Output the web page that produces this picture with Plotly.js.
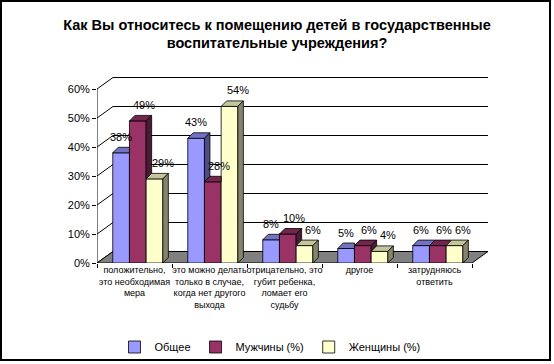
<!DOCTYPE html>
<html><head><meta charset="utf-8">
<script src="https://cdn.plot.ly/plotly-3.0.1.min.js"></script>
<style>html,body{margin:0;padding:0;background:#fff}#chart{width:554px;height:364px}</style>
</head><body><div id="chart"></div>
<script>
// ---- data ----
const categories = [
  "положительно,<br>это необходимая<br>мера",
  "это можно делать<br>только в случае,<br>когда нет другого<br>выхода",
  "отрицательно, это<br>губит ребенка,<br>ломает его<br>судьбу",
  "другое",
  "затрудняюсь<br>ответить"
];
const seriesNames = ["Общее", "Мужчины (%)", "Женщины (%)"];
const obshee = [38, 43, 8, 5, 6];
const muzhchiny = [49, 28, 10, 6, 6];
const zhenshchiny = [29, 54, 6, 4, 6];
const yTickVals = [0, 10, 20, 30, 40, 50, 60];
const yTickText = ["0%", "10%", "20%", "30%", "40%", "50%", "60%"];

// ---- geometry / style ----
const FONT = "Liberation Sans, Arial, sans-serif";
const L = 97, R = 497, T = 72, B = 263;
const catPx = 75, yPx = 2.9;
const xmin = -0.5, xmax = xmin + (R - L) / catPx;
const ymax = (B - T) / yPx;
const barW = 16.7 / catPx;
const offs = [-0.29, -0.29 + barW, -0.29 + 2 * barW];
const dx = 5.5 / catPx, dy = 5.5 / yPx;     // bar depth
const dxw = 16 / catPx, dyw = 11.5 / yPx;   // wall depth
const labelShift = [0, 6, 8];               // px, label placement per series
const frontC = ['#9999FF', '#993366', '#FFFFCC'];
const topC = ['#7373C4', '#73264D', '#C4C49D'];
const sideC = ['#4D4D85', '#4D1A33', '#85856B'];
const series = [obshee, muzhchiny, zhenshchiny];
const idx = categories.map((c, i) => i);
const xLast = categories.length - 0.5;

const traces = series.map((vals, i) => ({
  type: 'bar', name: seriesNames[i], x: idx, y: vals,
  offset: offs[i], width: barW,
  marker: {color: frontC[i], line: {color: '#000', width: 0.8}},
  hoverinfo: 'skip'
}));

const shapes = [];
const ln = {color: '#000', width: 1};
yTickVals.forEach(v => {
  shapes.push({type: 'line', layer: 'below', xref: 'x', yref: 'y', x0: xmin, y0: v, x1: xmin + dxw, y1: v + dyw, line: ln});
  shapes.push({type: 'line', layer: 'below', xref: 'x', yref: 'y', x0: xmin + dxw, y0: v + dyw, x1: xLast + dxw, y1: v + dyw, line: ln});
});
shapes.push({type: 'path', layer: 'below', xref: 'x', yref: 'y',
  path: `M${xmin},0 L${xLast},0 L${xLast + dxw},${dyw} L${xmin + dxw},${dyw} Z`,
  fillcolor: '#808080', line: ln});
shapes.push({type: 'line', layer: 'below', xref: 'x', yref: 'y', x0: xmin, y0: 0, x1: xmin, y1: yTickVals[yTickVals.length - 1], line: ln});

const p = pts => 'M' + pts.map(q => q[0] + ',' + q[1]).join(' L') + ' Z';
series.forEach((vals, i) => {
  const next = series[i + 1];
  vals.forEach((v, j) => {
    const x0 = j + offs[i], x1 = x0 + barW;
    const vn = next ? next[j] : null;
    let top;
    if (vn !== null && vn > v) top = [[x0, v], [x1, v], [x1, v + dy], [x0 + dx, v + dy]];
    else top = [[x0, v], [x1, v], [x1 + dx, v + dy], [x0 + dx, v + dy]];
    shapes.push({type: 'path', xref: 'x', yref: 'y', path: p(top), fillcolor: topC[i], line: {color: '#000', width: 0.8}});
    let side = null;
    if (vn === null) side = [[x1, 0], [x1 + dx, dy], [x1 + dx, v + dy], [x1, v]];
    else if (vn < v) side = [[x1, vn], [x1 + dx, vn + dy], [x1 + dx, v + dy], [x1, v]];
    if (side) shapes.push({type: 'path', xref: 'x', yref: 'y', path: p(side), fillcolor: sideC[i], line: {color: '#000', width: 0.8}});
  });
});

const px2x = px => (px - L) / (R - L), py2y = py => (B - py) / (B - T);
shapes.push({type: 'rect', xref: 'paper', yref: 'paper', x0: px2x(1), x1: px2x(550), y0: py2y(360), y1: py2y(1), line: {color: '#000', width: 2}});

const annotations = [];
series.forEach((vals, i) => vals.forEach((v, j) => {
  annotations.push({xref: 'x', yref: 'y', x: j + offs[i] + barW / 2, y: v, yanchor: 'bottom', yshift: 8, xshift: labelShift[i],
    text: v + '%', showarrow: false, font: {family: FONT, size: 11, color: '#000'}});
}));

const layout = {
  width: 554, height: 364,
  margin: {l: L, r: 554 - R, t: T, b: 364 - B, pad: 0, autoexpand: false},
  paper_bgcolor: '#fff', plot_bgcolor: 'rgba(0,0,0,0)',
  barmode: 'overlay',
  showlegend: true,
  title: {text: 'Как Вы относитесь к помещению детей в государственные<br>воспитательные учреждения?',
    font: {family: FONT, size: 14.5, color: '#000', weight: 'bold'},
    x: 0.5, xanchor: 'center', xref: 'container', y: 1 - 29.5 / 364, yref: 'container', yanchor: 'middle'},
  xaxis: {range: [xmin, xmax], tickmode: 'array', tickvals: idx, ticktext: categories, tickangle: 0, automargin: false,
    ticks: '', showgrid: false, zeroline: false, showline: false, fixedrange: true,
    tickfont: {family: FONT, size: 9, color: '#000'},
    minor: {tickmode: 'array', tickvals: idx.map(i => i - 0.5).concat([xLast]), ticks: 'outside', ticklen: 4, tickcolor: '#000', showgrid: false}},
  yaxis: {range: [0, ymax], tickmode: 'array', tickvals: yTickVals, ticktext: yTickText, automargin: false,
    ticks: 'outside', ticklen: 4, tickcolor: '#000', showgrid: false, zeroline: false, showline: false, fixedrange: true,
    tickfont: {family: FONT, size: 11, color: '#000'}},
  legend: {orientation: 'h', x: px2x(270), xanchor: 'center', y: py2y(347), yanchor: 'middle',
    font: {family: FONT, size: 11, color: '#000'}, itemwidth: 30, bgcolor: 'rgba(0,0,0,0)', traceorder: 'normal'},
  shapes: shapes,
  annotations: annotations
};

Plotly.newPlot('chart', traces, layout, {displayModeBar: false, staticPlot: true});
</script></body></html>
